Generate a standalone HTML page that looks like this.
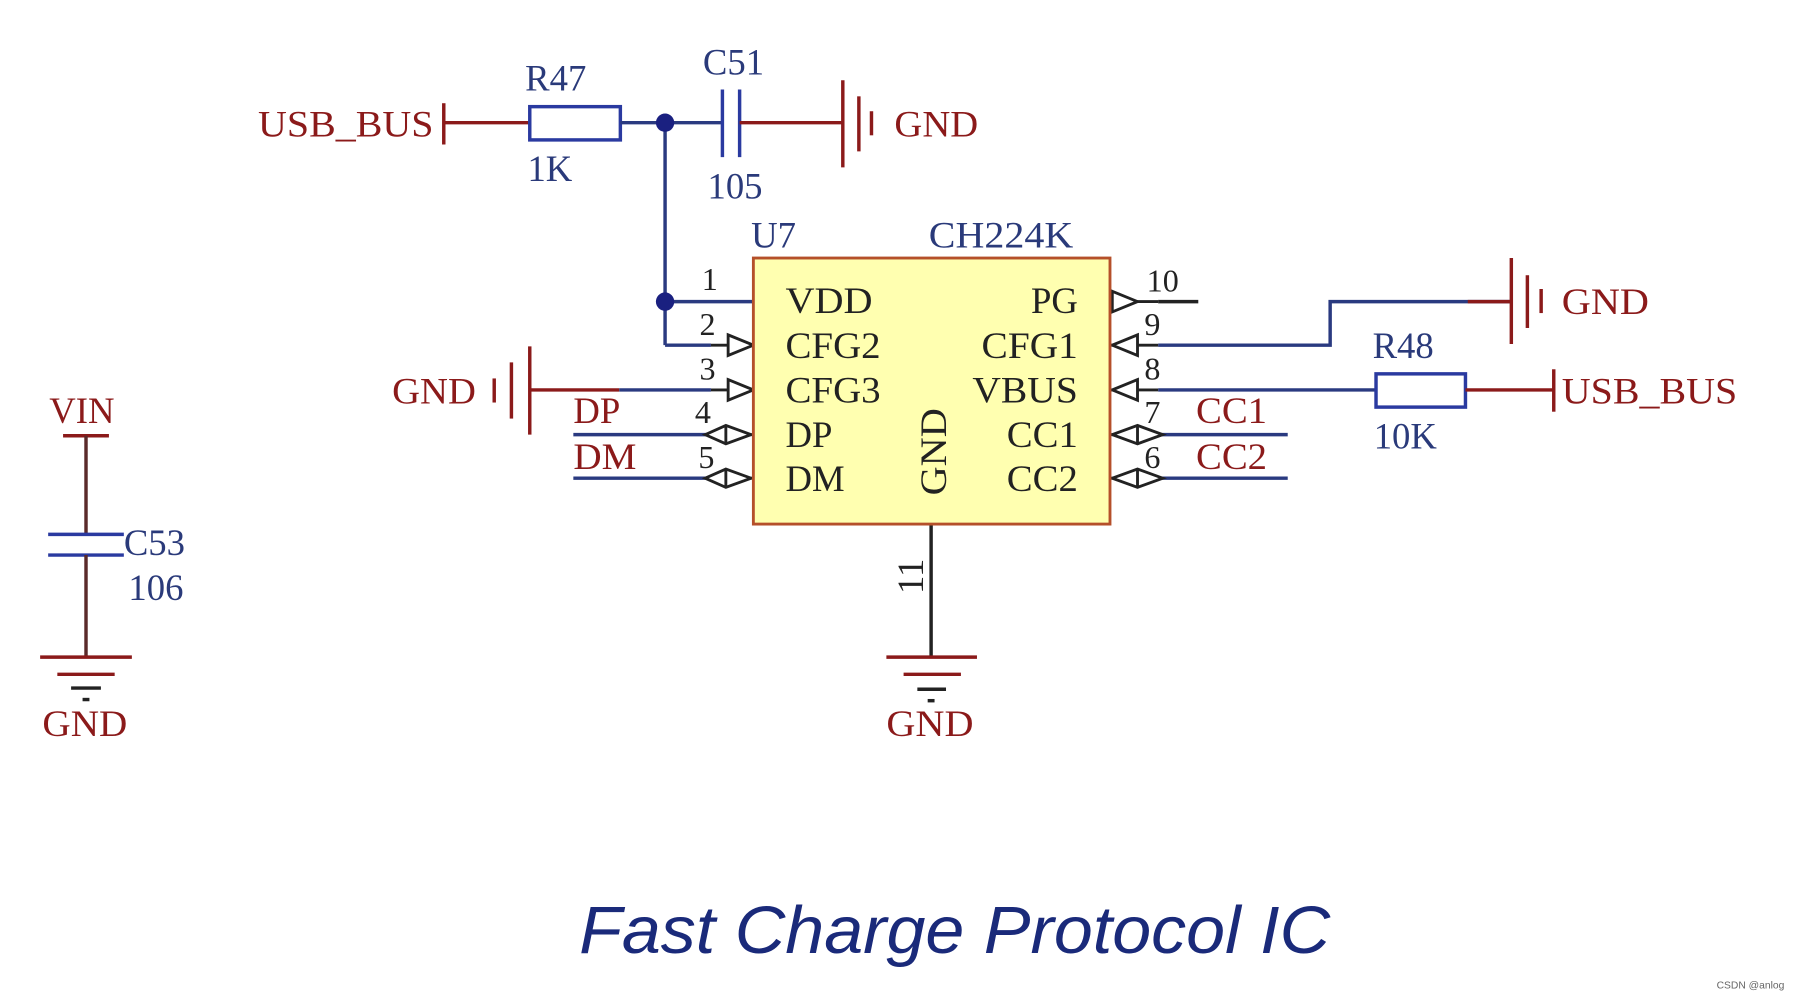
<!DOCTYPE html>
<html><head><meta charset="utf-8"><style>
html,body{margin:0;padding:0;background:#fff;width:1798px;height:1000px;overflow:hidden}
svg{display:block}
.s{font-family:"Liberation Serif",serif}
</style></head><body>
<svg width="1798" height="1000" viewBox="0 0 1568 872" preserveAspectRatio="none" xmlns="http://www.w3.org/2000/svg">
<rect width="1568" height="872" fill="#fff"/>
<g fill="none" stroke-width="3">
<line x1="387" y1="90" x2="387" y2="126" stroke="#8b1a1a"/>
<line x1="387" y1="107" x2="462" y2="107" stroke="#8b1a1a"/>
<rect x="462" y="93" width="79" height="29" stroke="#2a3aa0"/>
<line x1="541" y1="107" x2="630" y2="107" stroke="#2a3a80"/>
<line x1="630" y1="78" x2="630" y2="137" stroke="#2a3aa0"/>
<line x1="645" y1="78" x2="645" y2="137" stroke="#2a3aa0"/>
<line x1="645" y1="107" x2="735" y2="107" stroke="#8b1a1a"/>
<line x1="735" y1="70" x2="735" y2="146" stroke="#8b1a1a"/>
<line x1="749" y1="84" x2="749" y2="132" stroke="#8b1a1a"/>
<line x1="760" y1="97" x2="760" y2="118" stroke="#8b1a1a"/>
<line x1="580" y1="107" x2="580" y2="301" stroke="#2a3a80"/>
<line x1="580" y1="263" x2="657" y2="263" stroke="#2a3a80"/>
<line x1="580" y1="301" x2="620" y2="301" stroke="#2a3a80"/>
<line x1="431" y1="330" x2="431" y2="351" stroke="#8b1a1a"/>
<line x1="446" y1="316" x2="446" y2="365" stroke="#8b1a1a"/>
<line x1="462" y1="302" x2="462" y2="379" stroke="#8b1a1a"/>
<line x1="462" y1="340" x2="540" y2="340" stroke="#8b1a1a"/>
<line x1="540" y1="340" x2="620" y2="340" stroke="#2a3a80"/>
<line x1="500" y1="379" x2="620" y2="379" stroke="#2a3a80"/>
<line x1="500" y1="417" x2="620" y2="417" stroke="#2a3a80"/>
<line x1="1010" y1="263" x2="1045" y2="263" stroke="#222"/>
<polyline points="1010,301 1160,301 1160,263 1318,263" stroke="#2a3a80"/>
<line x1="1280" y1="263" x2="1318" y2="263" stroke="#8b1a1a"/>
<line x1="1318" y1="225" x2="1318" y2="300" stroke="#8b1a1a"/>
<line x1="1332" y1="240" x2="1332" y2="286" stroke="#8b1a1a"/>
<line x1="1344" y1="252" x2="1344" y2="273" stroke="#8b1a1a"/>
<line x1="1010" y1="340" x2="1200" y2="340" stroke="#2a3a80"/>
<rect x="1200" y="326" width="78" height="29" stroke="#2a3aa0"/>
<line x1="1278" y1="340" x2="1355" y2="340" stroke="#8b1a1a"/>
<line x1="1355" y1="322" x2="1355" y2="359" stroke="#8b1a1a"/>
<line x1="1010" y1="379" x2="1123" y2="379" stroke="#2a3a80"/>
<line x1="1010" y1="417" x2="1123" y2="417" stroke="#2a3a80"/>
<line x1="812" y1="457" x2="812" y2="573" stroke="#222"/>
<line x1="773" y1="573" x2="852" y2="573" stroke="#8b1a1a"/>
<line x1="788" y1="588" x2="838" y2="588" stroke="#8b1a1a"/>
<line x1="800" y1="601" x2="825" y2="601" stroke="#222"/>
<line x1="809" y1="611" x2="815" y2="611" stroke="#222"/>
<line x1="55" y1="380" x2="95" y2="380" stroke="#8b1a1a"/>
<line x1="75" y1="380" x2="75" y2="466" stroke="#5a2a2a"/>
<line x1="42" y1="466" x2="108" y2="466" stroke="#2a3aa0"/>
<line x1="42" y1="484" x2="108" y2="484" stroke="#2a3aa0"/>
<line x1="75" y1="484" x2="75" y2="573" stroke="#5a2a2a"/>
<line x1="35" y1="573" x2="115" y2="573" stroke="#8b1a1a"/>
<line x1="50" y1="588" x2="100" y2="588" stroke="#8b1a1a"/>
<line x1="62" y1="600" x2="88" y2="600" stroke="#222"/>
<line x1="72" y1="610" x2="78" y2="610" stroke="#222"/>
<g stroke="#222" stroke-width="2.5">
<line x1="620" y1="301" x2="657" y2="301"/><polygon points="635,292 657,301 635,310" fill="#fff"/>
<line x1="620" y1="340" x2="657" y2="340"/><polygon points="635,331 657,340 635,349" fill="#fff"/>
<line x1="620" y1="379" x2="657" y2="379"/><polygon points="615,379 633,371 655,379 633,387" fill="#fff"/><line x1="633" y1="371" x2="633" y2="387"/>
<line x1="620" y1="417" x2="657" y2="417"/><polygon points="615,417 633,409 655,417 633,425" fill="#fff"/><line x1="633" y1="409" x2="633" y2="425"/>
<line x1="968" y1="263" x2="1010" y2="263"/><polygon points="970,254 992,263 970,272" fill="#fff"/>
<line x1="968" y1="301" x2="1010" y2="301"/><polygon points="992,292 970,301 992,310" fill="#fff"/>
<line x1="968" y1="340" x2="1010" y2="340"/><polygon points="992,331 970,340 992,349" fill="#fff"/>
<line x1="968" y1="379" x2="1010" y2="379"/><polygon points="970,379 992,371 1014,379 992,387" fill="#fff"/><line x1="992" y1="371" x2="992" y2="387"/>
<line x1="968" y1="417" x2="1010" y2="417"/><polygon points="970,417 992,409 1014,417 992,425" fill="#fff"/><line x1="992" y1="409" x2="992" y2="425"/>
</g>
<rect x="657" y="225" width="311" height="232" fill="#ffffb0" stroke="#b5502a" stroke-width="2.5"/>
</g>
<circle cx="580" cy="107" r="8" fill="#1a2080"/>
<circle cx="580" cy="263" r="8" fill="#1a2080"/>
<g class="s" font-size="32">
<g fill="#8b1a1a">
<text x="225" y="119" textLength="153" lengthAdjust="spacingAndGlyphs">USB_BUS</text><text x="780" y="119" textLength="73" lengthAdjust="spacingAndGlyphs">GND</text>
<text x="342" y="352" textLength="73" lengthAdjust="spacingAndGlyphs">GND</text><text x="500" y="369">DP</text><text x="500" y="409" textLength="55" lengthAdjust="spacingAndGlyphs">DM</text>
<text x="1362" y="274" textLength="76" lengthAdjust="spacingAndGlyphs">GND</text><text x="1362" y="352" textLength="153" lengthAdjust="spacingAndGlyphs">USB_BUS</text>
<text x="1043" y="369" textLength="62" lengthAdjust="spacingAndGlyphs">CC1</text><text x="1043" y="409" textLength="62" lengthAdjust="spacingAndGlyphs">CC2</text>
<text x="773" y="642" textLength="76" lengthAdjust="spacingAndGlyphs">GND</text><text x="43" y="369">VIN</text><text x="37" y="642" textLength="74" lengthAdjust="spacingAndGlyphs">GND</text>
</g>
<g fill="#2a3a7a">
<text x="458" y="79">R47</text><text x="460" y="158">1K</text>
<text x="613" y="65">C51</text><text x="617" y="173">105</text>
<text x="655" y="216">U7</text><text x="810" y="216" textLength="126" lengthAdjust="spacingAndGlyphs">CH224K</text>
<text x="1197" y="312">R48</text><text x="1198" y="391">10K</text>
<text x="108" y="484">C53</text><text x="112" y="523">106</text>
</g>
<g fill="#222">
<text x="685" y="273" textLength="76" lengthAdjust="spacingAndGlyphs">VDD</text><text x="685" y="312" textLength="83" lengthAdjust="spacingAndGlyphs">CFG2</text><text x="685" y="351" textLength="83" lengthAdjust="spacingAndGlyphs">CFG3</text>
<text x="685" y="390">DP</text><text x="685" y="428">DM</text>
<g text-anchor="end"><text x="940" y="273">PG</text><text x="940" y="312" textLength="84" lengthAdjust="spacingAndGlyphs">CFG1</text><text x="940" y="351" textLength="92" lengthAdjust="spacingAndGlyphs">VBUS</text>
<text x="940" y="390" textLength="62" lengthAdjust="spacingAndGlyphs">CC1</text><text x="940" y="428" textLength="62" lengthAdjust="spacingAndGlyphs">CC2</text></g>
<text transform="translate(825,432) rotate(-90)" textLength="76" lengthAdjust="spacingAndGlyphs">GND</text>
<text transform="translate(805,518) rotate(-90)">11</text>
<g font-size="28"><text x="612" y="253">1</text><text x="610" y="292">2</text><text x="610" y="331">3</text><text x="606" y="369">4</text><text x="609" y="408">5</text>
<text x="1000" y="254">10</text><text x="998" y="292">9</text><text x="998" y="331">8</text><text x="998" y="369">7</text><text x="998" y="408">6</text></g>
</g>
</g>
<text x="505" y="831" style="font-family:'Liberation Sans',sans-serif;font-style:italic" font-size="58" fill="#1a2a7a" textLength="655" lengthAdjust="spacingAndGlyphs">Fast Charge Protocol IC</text>
<text x="1497" y="862" style="font-family:'Liberation Sans',sans-serif" font-size="9" fill="#666">CSDN @anlog</text>
</svg>
</body></html>
